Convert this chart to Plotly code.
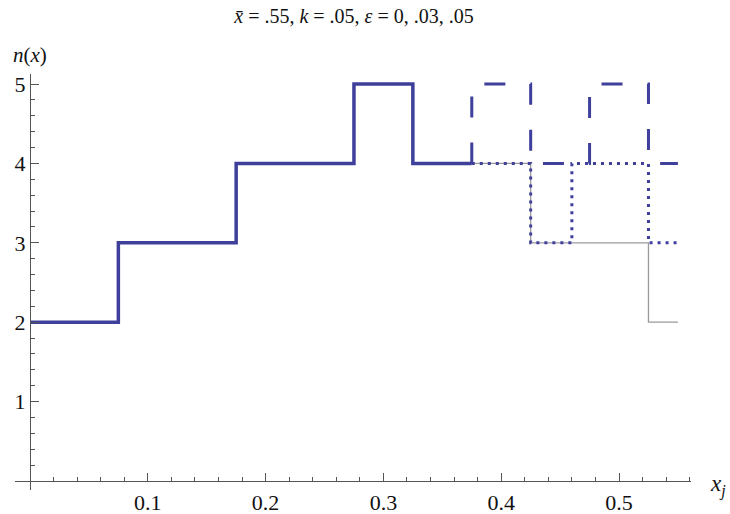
import plotly.graph_objects as go

# ---- data ----
common_edges = [0, 0.075, 0.175, 0.275, 0.325, 0.375]
common_vals = [2, 3, 4, 5, 4]

eps0_edges = [0, 0.075, 0.175, 0.275, 0.325, 0.425, 0.525, 0.55]
eps0_vals = [2, 3, 4, 5, 4, 3, 2]

eps03_edges = [0.375, 0.425, 0.46, 0.525, 0.55]
eps03_vals = [4, 3, 4, 3]

eps05_edges = [0.375, 0.425, 0.475, 0.525, 0.55]
eps05_vals = [5, 4, 5, 4]

x_tick_vals = [0.1, 0.2, 0.3, 0.4, 0.5]
x_tick_text = ["0.1", "0.2", "0.3", "0.4", "0.5"]
y_tick_vals = [1, 2, 3, 4, 5]
y_tick_text = ["1", "2", "3", "4", "5"]

BLUE = "#3f3f9c"
FONT = "Liberation Serif"


def step_xy(edges, vals):
    return list(edges), list(vals) + [vals[-1]]


fig = go.Figure()

x, y = step_xy(eps0_edges, eps0_vals)
fig.add_trace(go.Scatter(x=x, y=y, mode="lines", line_shape="hv",
                         line=dict(color="#9a9a9a", width=1.3), showlegend=False))

x, y = step_xy(eps05_edges, eps05_vals)
fig.add_trace(go.Scatter(x=[eps05_edges[0]] + x, y=[common_vals[-1]] + y, mode="lines",
                         line_shape="hv",
                         line=dict(color=BLUE, width=3, dash="21px,25px"), showlegend=False))

x, y = step_xy(eps03_edges, eps03_vals)
fig.add_trace(go.Scatter(x=x, y=y, mode="lines", line_shape="hv",
                         line=dict(color=BLUE, width=3, dash="3px,5px"), showlegend=False))

x, y = step_xy(common_edges, common_vals)
fig.add_trace(go.Scatter(x=x, y=y, mode="lines", line_shape="hv",
                         line=dict(color=BLUE, width=3.5), showlegend=False))

xa, xb = -0.01273, 0.5611
ya, yb = -0.113, 5.126

axis_common = dict(showgrid=False, zeroline=False, showline=True,
                   linecolor="#555555", linewidth=1, ticks="inside",
                   tickcolor="#555555", tickwidth=1, ticklen=8,
                   tickfont=dict(family=FONT, size=22, color="#111111"),
                   anchor="free", automargin=False)

fig.update_layout(
    width=730, height=514,
    margin=dict(l=15, r=39, t=74, b=24, autoexpand=False),
    plot_bgcolor="white", paper_bgcolor="white",
    title=dict(text="<i>x̄</i> = .55, <i>k</i> = .05, <i>ε</i> = 0, .03, .05",
               x=354 / 730, y=1 - 16 / 514, xanchor="center", yanchor="middle",
               font=dict(family=FONT, size=20, color="#111111")),
    xaxis=dict(range=[xa, xb], tickvals=x_tick_vals, ticktext=x_tick_text,
               position=(0 - ya) / (yb - ya), ticklabelstandoff=2,
               minor=dict(dtick=0.02, tick0=0, ticks="inside", ticklen=4,
                          tickcolor="#555555"),
               **axis_common),
    yaxis=dict(range=[ya, yb], tickvals=y_tick_vals, ticktext=y_tick_text,
               position=(0 - xa) / (xb - xa),
               minor=dict(dtick=0.2, tick0=0, ticks="inside", ticklen=4,
                          tickcolor="#555555"),
               **axis_common),
    annotations=[
        dict(text="<i>n</i>(<i>x</i>)", xref="paper", yref="paper",
             x=(30 - 15) / 676, y=(490 - 55) / 416, showarrow=False,
             xanchor="center", yanchor="middle",
             font=dict(family=FONT, size=21, color="#111111")),
        dict(text="<i>x</i><sub><i>j</i></sub>", xref="paper", yref="paper",
             x=(718 - 15) / 676, y=(490 - 485) / 416, showarrow=False,
             xanchor="center", yanchor="middle",
             font=dict(family=FONT, size=23, color="#111111")),
    ],
)

fig.write_html("out.html", config={"displayModeBar": False},
               post_script="document.body.style.margin='0px';")
